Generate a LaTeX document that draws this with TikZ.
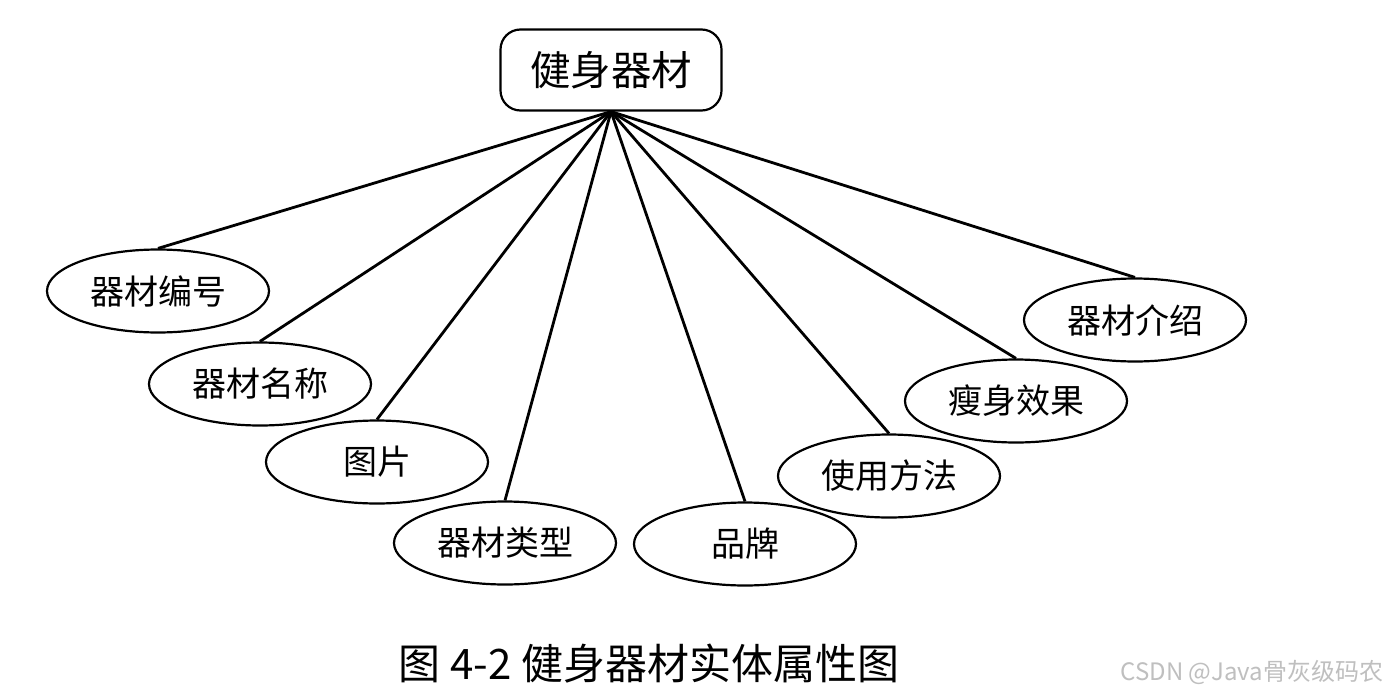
\documentclass[tikz,border=0pt]{standalone}
\usepackage{fontspec}
\newfontfamily\cjk{Noto Sans CJK SC}
\usetikzlibrary{shapes.geometric}
\begin{document}
\begin{tikzpicture}[x=1pt,y=-1pt,
  entitybox/.style={draw=black, line width=2.2pt, fill=white, rounded corners=20pt,
    minimum width=221pt, minimum height=81pt, inner sep=0pt,
    font=\cjk\fontsize{40.5}{46}\selectfont},
  attr/.style={draw=black, line width=2.2pt, fill=white, ellipse,
    minimum width=222pt, minimum height=83pt, inner sep=0pt,
    font=\cjk\fontsize{34}{40}\selectfont},
  link/.style={draw=black, line width=2.8pt}]
\useasboundingbox (0,0) rectangle (1392,696);
\fill[white] (0,0) rectangle (1392,696);
\node[entitybox] (t) at (611,70) {健身器材};
\node[attr] (a1) at (158,291) {器材编号};
\node[attr] (a2) at (260,384) {器材名称};
\node[attr] (a3) at (377,462) {图片};
\node[attr] (a4) at (505,543) {器材类型};
\node[attr] (a5) at (745,544) {品牌};
\node[attr] (a6) at (889,476) {使用方法};
\node[attr] (a7) at (1016,401) {瘦身效果};
\node[attr] (a8) at (1135,320) {器材介绍};
\foreach \n in {a1,a2,a3,a4,a5,a6,a7,a8}{
  \draw[link] (t.south) -- (\n.north);
}
\node[font=\cjk\fontsize{42}{48}\selectfont, anchor=center] (cap) at (649,664) {图 4-2 健身器材实体属性图};
\node[font=\cjk\fontsize{24}{28}\selectfont, text=black!25, anchor=east] (wm) at (1387,672) {CSDN @Java骨灰级码农};
\end{tikzpicture}
\end{document}
